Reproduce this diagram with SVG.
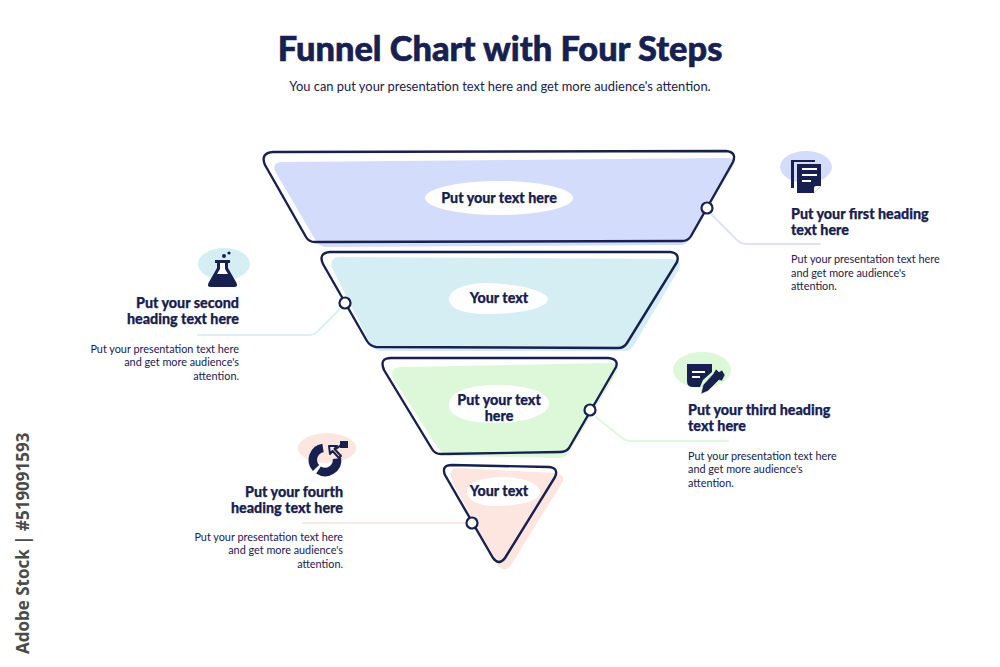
<svg xmlns="http://www.w3.org/2000/svg" width="1000" height="667" viewBox="0 0 1000 667">
<style>
text{font-family:"Lato","Liberation Sans",sans-serif;fill:#17204f}
.t{font-size:34.400px;font-weight:900;text-anchor:middle;stroke:#17204f;stroke-width:.6}
.s{font-size:12.900px;text-anchor:middle}
.h{font-size:14.300px;font-weight:900;stroke:#17204f;stroke-width:.25}
.b{font-size:10.850px}
.c{font-size:14.300px;font-weight:900;text-anchor:middle;stroke:#17204f;stroke-width:.25}
.e{text-anchor:end}
.o{fill:none;stroke:#17204f;stroke-width:2.4;stroke-linejoin:round}
.l{fill:none;stroke-width:2;stroke-linecap:round}
.d{fill:#fff;stroke:#17204f;stroke-width:2.2}
.i{fill:#17204f}
.w{fill:#fff}
</style>
<rect width="1000" height="667" fill="#fff"/>
<text class="t" x="500" y="61">Funnel Chart with Four Steps</text>
<text class="s" x="500" y="91">You can put your presentation text here and get more audience's attention.</text>
<text x="0" y="0" transform="translate(29 654) rotate(-90)" style="font-family:'Open Sans','Liberation Sans',sans-serif;font-size:17px;font-weight:700;fill:#4a4a4a">Adobe Stock | #519091593</text>
<g id="connectors">
<path class="l" stroke="#dde3fc" d="M711 214L737 240Q741 244 747 244H820"/>
<path class="l" stroke="#d9f0f5" d="M340 309L319 330Q315 335 309 335H198"/>
<path class="l" stroke="#e0f8dd" d="M596 417L621 437Q625 441 631 441H728"/>
<path class="l" stroke="#fce9e2" d="M303 523H466"/>
</g>
<g id="step1">
<path d="M283 162L727 158Q736 158 733 166L690 239Q686 245 680 245L327 247Q320 247 316 241L275 171Q272 162 283 162Z" fill="#d4dcfb"/>
<path class="o" d="M273 152L726 151Q737 152 733 162L691 236Q688 241 682 241L315 242Q309 242 306 237L265 165Q260 153 273 152Z"/>
<ellipse cx="499" cy="198" rx="74" ry="17" class="w"/>
<text class="c" x="499" y="203">Put your text here</text>
<circle class="d" cx="707" cy="208" r="5.500"/>
</g>
<g id="step2">
<path d="M340 257L672 259Q683 260 679 269L634 345Q631 351 624 351H380Q374 350 371 345L332 268Q329 257 340 257Z" fill="#d4eef4"/>
<path class="o" d="M330 252H670Q680 253 677 262L627 343Q624 348 618 348L376 347Q370 346 367 341L323 264Q318 253 330 252Z"/>
<path class="w" d="M449 299C450 289 465 283 490 283C515 284 546 290 548 299C548 308 520 314 487 314C465 314 449 309 449 299Z"/>
<text class="c" x="499" y="303">Your text</text>
<circle class="d" cx="345" cy="303" r="5.500"/>
</g>
<g id="step3">
<path d="M402 367L610 363Q620 364 617 372L569 452Q566 458 558 458L449 456Q442 455 438 448L393 378Q389 367 402 367Z" fill="#dcf8d9"/>
<path class="o" d="M391 358H608Q619 359 616 367L569 448Q566 452 560 452L441 454Q435 454 432 449L384 370Q379 358 391 358Z"/>
<path class="w" d="M449 405C449 391 470 385 497 385C525 385 549 392 549 403C549 415 525 423 495 423C468 423 449 417 449 405Z"/>
<text class="c" x="499" y="405">Put your text</text>
<text class="c" x="499" y="421">here</text>
<circle class="d" cx="590" cy="410" r="5.500"/>
</g>
<g id="step4">
<path d="M459 468L556 473Q566 475 562 483L511 565Q505 573 498 566L452 481Q447 468 459 468Z" fill="#fce6df"/>
<path class="o" d="M452 465L549 467Q559 468 555 477L505 558Q499 566 493 558L445 475Q441 465 452 465Z"/>
<path class="w" d="M467 491C468 481 485 477 505 477C525 478 540 484 540 492C540 501 520 506 495 506C478 506 467 500 467 491Z"/>
<text class="c" x="499" y="496">Your text</text>
<circle class="d" cx="472" cy="523" r="5.500"/>
</g>
<g id="info1">
<ellipse cx="806" cy="167" rx="26" ry="16" fill="#d4dcfb"/>
<path class="i" d="M791 160H815V162H794V188H791Z"/>
<path class="i" d="M797 164H821V186L814 193H797Z"/>
<path class="w" d="M802 168H817V170H802ZM802 174H817V176H802ZM802 180H811V182H802ZM814 193V188Q814 186 816 186H821Z"/>
<text class="h" x="791" y="219">Put your first heading</text>
<text class="h" x="791" y="235">text here</text>
<text class="b" x="791" y="263">Put your presentation text here</text>
<text class="b" x="791" y="277">and get more audience's</text>
<text class="b" x="791" y="290">attention.</text>
</g>
<g id="info2">
<ellipse cx="224" cy="264" rx="26" ry="16" fill="#d4eef4"/>
<circle class="i" cx="224" cy="256" r="2"/>
<circle class="i" cx="229" cy="253" r="1.600"/>
<path class="i" d="M215 260H230V263H228V268L236 282Q239 287 234 287H211Q206 287 209 282L217 268V263H215Z"/>
<path class="w" d="M220 263H225V269L228 274H217L220 269Z"/>
<text class="h e" x="239" y="308">Put your second</text>
<text class="h e" x="239" y="324">heading text here</text>
<text class="b e" x="239" y="353">Put your presentation text here</text>
<text class="b e" x="239" y="366">and get more audience's</text>
<text class="b e" x="239" y="380">attention.</text>
</g>
<g id="info3">
<ellipse cx="702" cy="370" rx="29" ry="18" fill="#dcf8d9"/>
<path class="i" d="M687 364H712V372L703 380L700 387H693Q687 387 687 381Z"/>
<path class="w" d="M692 371H705V373H692ZM692 376H700V378H692Z"/>
<path class="i" d="M716 369L719 372L722 370L725 375L722 381L719 380L708 391L701 394L703 385L713 374Z" stroke="#dcf8d9" stroke-width=".6"/>
<text class="h" x="688" y="415">Put your third heading</text>
<text class="h" x="688" y="431">text here</text>
<text class="b" x="688" y="460">Put your presentation text here</text>
<text class="b" x="688" y="473">and get more audience's</text>
<text class="b" x="688" y="487">attention.</text>
</g>
<g id="info4">
<ellipse cx="327" cy="448" rx="29" ry="15" fill="#fce6df"/>
<path d="M323 448A12 12 0 0 0 316 468" fill="none" stroke="#17204f" stroke-width="8.500"/>
<path d="M318.500 470A12 12 0 0 0 337 458.500" fill="none" stroke="#17204f" stroke-width="8.500"/>
<path class="i" d="M340 441H348V448H340Z"/>
<path d="M329 446L337 446L334.500 449L341 456L339 458L332.500 451L330 454Z" fill="#fce6df" stroke="#17204f" stroke-width="2" stroke-linejoin="round"/>
<path d="M336 449L341 445" stroke="#17204f" stroke-width="2" fill="none"/>
<text class="h e" x="343" y="497">Put your fourth</text>
<text class="h e" x="343" y="513">heading text here</text>
<text class="b e" x="343" y="541">Put your presentation text here</text>
<text class="b e" x="343" y="554">and get more audience's</text>
<text class="b e" x="343" y="568">attention.</text>
</g>
</svg>
